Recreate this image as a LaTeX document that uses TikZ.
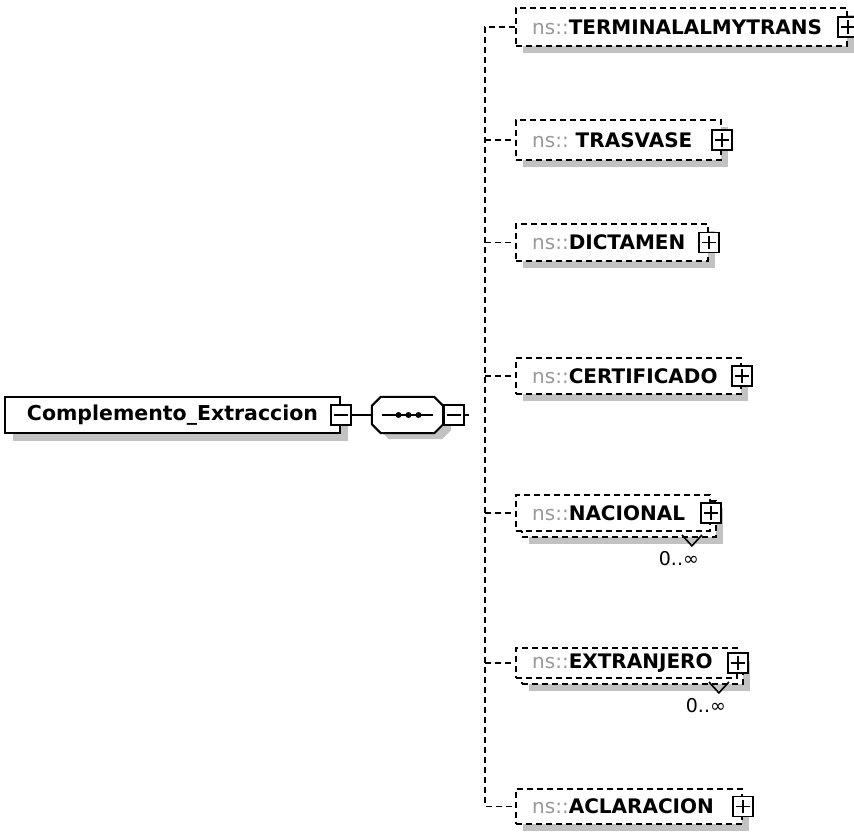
\documentclass[tikz,border=0pt]{standalone}
\usepackage{fontspec}
\setmainfont{DejaVu Sans}
\usetikzlibrary{shadows}

\definecolor{nsgray}{gray}{0.6}
\definecolor{shadowgray}{gray}{0.76}
\newcommand{\nsprefix}{{\color{nsgray}\mdseries ns::}}

\tikzset{
  elem/.style={draw, dash pattern=on 6pt off 4pt, line width=1.9pt, fill=white, anchor=north west, inner sep=0pt},
  shade/.style={drop shadow={shadow xshift=7pt, shadow yshift=-7pt, fill=shadowgray, opacity=1}},
  pmbox/.style={draw, solid, fill=white, line width=1.8pt, minimum size=20pt, inner sep=0pt},
  lbl/.style={anchor=west, inner sep=0pt, font=\fontsize{20}{21}\selectfont\bfseries},
  conn/.style={dash pattern=on 6pt off 4pt, line width=1.9pt},
  occ/.style={inner sep=0pt, font=\fontsize{19}{20}\selectfont}
}

\begin{document}
\begin{tikzpicture}[x=1pt, y=-1pt]
    \useasboundingbox (0,0) rectangle (854,831);

    % root element and its sequence
    \node[draw, line width=2pt, fill=white, minimum width=335pt, minimum height=36pt,
          inner sep=0pt, font=\fontsize{20.5}{21}\selectfont\bfseries,
          drop shadow={shadow xshift=8pt, shadow yshift=-8pt, fill=shadowgray, opacity=1}]
          (root) at (172.5,415) {Complemento\_Extraccion};
    \node[pmbox] (root-pm) at (root.east) {};
    \draw[line width=1.8pt] ([xshift=4pt]root-pm.west) -- ([xshift=-4pt]root-pm.east);

    \node[minimum width=71pt, minimum height=36pt, inner sep=0pt] (seq) at (407.5,415) {};
    \def\seqpath{([xshift=9pt]seq.north west) -- ([xshift=-9pt]seq.north east)
        -- ([yshift=-9pt]seq.north east) -- ([yshift=9pt]seq.south east)
        -- ([xshift=-9pt]seq.south east) -- ([xshift=9pt]seq.south west)
        -- ([yshift=9pt]seq.south west) -- ([yshift=-9pt]seq.north west) -- cycle}
    \fill[shadowgray, transform canvas={shift={(8pt,-6pt)}}] \seqpath;
    \draw[line width=2pt, fill=white] \seqpath;
    \node[pmbox, anchor=west] (seq-pm) at (seq.east) {};
    \draw[line width=1.8pt] ([xshift=4pt]seq-pm.west) -- ([xshift=-4pt]seq-pm.east);
    \draw[line width=2pt] (root-pm.east) -- (seq.west);
    \draw[line width=2pt] (seq-pm.east) -- ++(4,0);

    % the sequence symbol
    \draw[line width=1.8pt] ([xshift=10pt]seq.west) -- ([xshift=-10pt]seq.east);
    \foreach \dx in {-9,1,11}
        \fill ([xshift=\dx pt]seq.center) circle (3pt);

    % child elements: name / top / width / height / multiple / text
    \foreach \nm/\yt/\w/\h/\m/\txt in {
        terminal/7/331/38/0/TERMINALALMYTRANS,
        trasvase/119/205/40/0/{\ TRASVASE},
        dictamen/223/192/37/0/DICTAMEN,
        certificado/357/225/36/0/CERTIFICADO,
        nacional/494/194/36/1/NACIONAL,
        extranjero/647/221/30/1/EXTRANJERO,
        aclaracion/788/226/35/0/ACLARACION}
    {
        \ifnum\m=1
            \node[elem, shade, minimum width=\w pt, minimum height=\h pt] (\nm-back) at (521,\yt+6) {};
            \node[elem, minimum width=\w pt, minimum height=\h pt] (\nm) at (515,\yt) {};
        \else
            \node[elem, shade, minimum width=\w pt, minimum height=\h pt] (\nm) at (515,\yt) {};
        \fi
        \node[lbl] (\nm-txt) at ([xshift=17pt]\nm.west) {\nsprefix\txt};
        \node[pmbox] (\nm-pm) at (\nm.east) {};
        \draw[line width=1.8pt] ([xshift=4pt]\nm-pm.west) -- ([xshift=-4pt]\nm-pm.east);
        \draw[line width=1.8pt] ([yshift=-4pt]\nm-pm.north) -- ([yshift=4pt]\nm-pm.south);
    }

    % occurrence marks
    \foreach \nm in {nacional,extranjero} {
        \coordinate (\nm-tip) at ([xshift=-25pt, yshift=-8pt]\nm-back.south east);
        \draw[line width=1.6pt] (\nm-tip) ++(-10,-11) -- (\nm-tip) -- ++(10,-11);
        \node[occ] (\nm-occ) at ([xshift=-13pt, yshift=-13pt]\nm-tip) {0..∞};
    }

    % dashed bus to the children
    \coordinate (bus) at (485,415);
    \draw[conn] (terminal.west) -| (bus) |- (aclaracion.west);
    \foreach \nm in {trasvase,dictamen,certificado,nacional,extranjero}
        \draw[conn] (bus |- \nm.west) -- (\nm.west);

\end{tikzpicture}
\end{document}
